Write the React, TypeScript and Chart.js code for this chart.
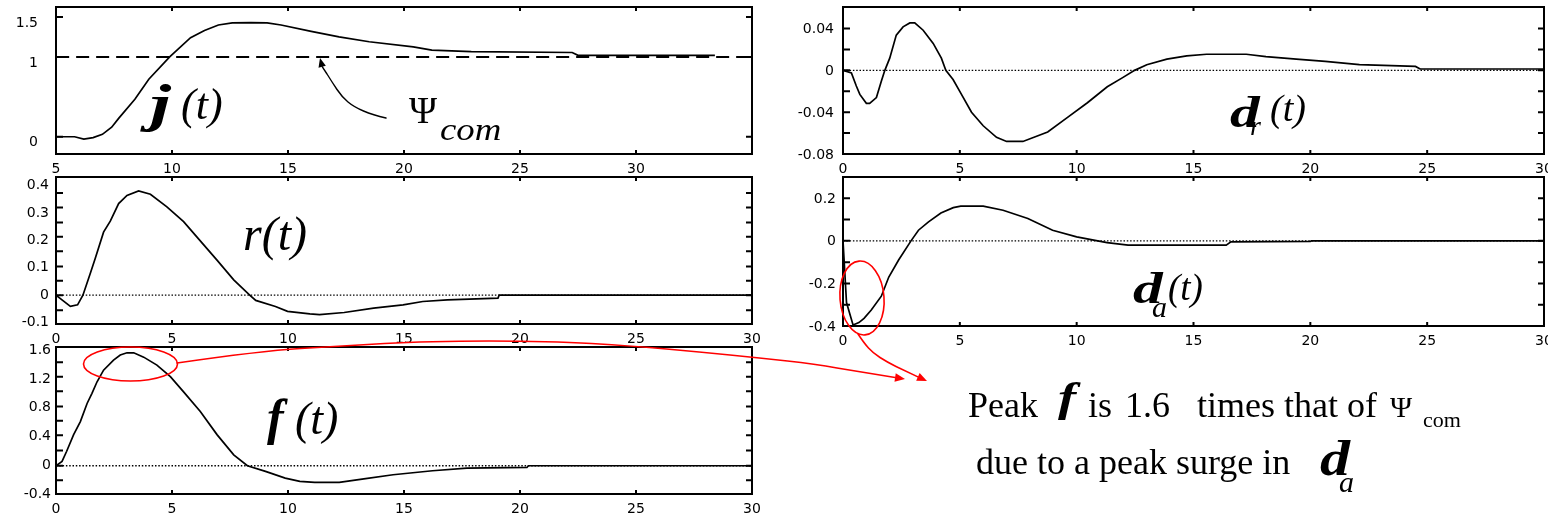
import React, { useEffect, useRef } from "react";
import { Chart, registerables } from "chart.js";

Chart.register(...registerables);

const PAGE_W = 1548;
const PAGE_H = 518;

// ---------------- data ----------------
const jTime = [5, 5.8, 6.2, 6.6, 7.0, 7.4, 7.7, 8.4, 9.0, 9.9, 10.8, 11.4, 12.0, 12.6, 13.4, 14.1, 14.7, 16.0, 17.2, 18.5, 20.4, 21.2, 22.9, 27.25, 27.5, 33.4];
const jValue = [0, 0, -0.03, -0.01, 0.03, 0.12, 0.23, 0.47, 0.72, 1.0, 1.24, 1.33, 1.4, 1.425, 1.43, 1.425, 1.4, 1.32, 1.25, 1.19, 1.125, 1.085, 1.065, 1.055, 1.02, 1.02];
const psiComTime = [5, 5, 35];
const psiComValue = [0, 1, 1];

const rTime = [0, 0.3, 0.62, 0.93, 1.16, 1.48, 1.69, 2.05, 2.34, 2.7, 3.06, 3.56, 4.07, 4.78, 5.5, 6.2, 6.94, 7.66, 8.35, 8.61, 9.46, 9.98, 10.94, 11.36, 12.42, 13.69, 14.96, 15.81, 16.87, 19.05, 19.1, 30];
const rValue = [0, -0.02, -0.041, -0.035, 0, 0.08, 0.134, 0.23, 0.27, 0.334, 0.364, 0.38, 0.368, 0.322, 0.268, 0.2, 0.128, 0.056, 0, -0.019, -0.041, -0.059, -0.068, -0.071, -0.063, -0.047, -0.035, -0.023, -0.017, -0.011, 0, 0];

const fTime = [0, 0.26, 0.46, 0.76, 1.05, 1.34, 1.55, 1.77, 2.05, 2.48, 2.77, 3.06, 3.35, 3.78, 4.35, 4.93, 5.5, 6.22, 6.94, 7.66, 8.25, 9.03, 9.88, 10.51, 11.15, 12.21, 13.27, 14.53, 16.23, 17.71, 20.3, 20.36, 30];
const fValue = [0, 0.06, 0.2, 0.43, 0.61, 0.86, 1.0, 1.16, 1.32, 1.46, 1.53, 1.56, 1.56, 1.5, 1.39, 1.23, 1.02, 0.75, 0.43, 0.15, 0, -0.078, -0.17, -0.216, -0.23, -0.23, -0.18, -0.124, -0.069, -0.032, -0.023, 0, 0];

const drTime = [0, 0.36, 0.57, 0.72, 1.0, 1.14, 1.43, 1.64, 1.79, 2.0, 2.28, 2.57, 2.86, 3.07, 3.43, 3.86, 4.21, 4.4, 4.71, 5.07, 5.5, 6.0, 6.57, 7.0, 7.7, 8.76, 9.61, 10.46, 11.31, 11.95, 12.48, 13.0, 13.86, 14.71, 15.56, 17.26, 18.1, 19.4, 20.64, 22.1, 24.5, 24.7, 30];
const drValue = [0, -0.0025, -0.015, -0.023, -0.0315, -0.0315, -0.026, -0.0104, 0, 0.0117, 0.0337, 0.0416, 0.0454, 0.0454, 0.0384, 0.0258, 0.0117, 0, -0.0088, -0.023, -0.04, -0.053, -0.064, -0.068, -0.068, -0.059, -0.045, -0.031, -0.0157, -0.0072, 0, 0.0054, 0.0107, 0.0139, 0.0154, 0.0154, 0.0132, 0.0107, 0.0085, 0.0054, 0.0038, 0.0013, 0.0013];

const daTime = [0, 0.15, 0.43, 0.68, 0.9, 1.21, 1.64, 1.96, 2.38, 2.91, 3.23, 3.66, 4.19, 4.72, 5.04, 6.0, 6.85, 7.91, 8.97, 10.0, 10.9, 11.3, 12.2, 16.4, 16.6, 20.0, 20.05, 30];
const daValue = [0, -0.29, -0.395, -0.384, -0.364, -0.325, -0.26, -0.17, -0.09, 0, 0.05, 0.089, 0.131, 0.156, 0.163, 0.163, 0.144, 0.105, 0.05, 0.019, 0, -0.008, -0.02, -0.02, -0.005, -0.002, 0, 0];

const zeroTime = [0, 30];
const zeroValue = [0, 0];

// tick values and labels
const jXTicks = [5, 10, 15, 20, 25, 30];
const jXLabels = ["5", "10", "15", "20", "25", "30"];
const tXTicks = [0, 5, 10, 15, 20, 25, 30];
const tXLabels = ["0", "5", "10", "15", "20", "25", "30"];
const jYTicks = [0, 1, 1.5];
const jYLabels = ["0", "1", "1.5"];
const drYTicks = [-0.08, -0.04, 0, 0.04];
const drYLabels = ["-0.08", "-0.04", "0", "0.04"];
const rYTicks = [-0.1, 0, 0.1, 0.2, 0.3, 0.4];
const rYLabels = ["-0.1", "0", "0.1", "0.2", "0.3", "0.4"];
const daYTicks = [-0.4, -0.2, 0, 0.2];
const daYLabels = ["-0.4", "-0.2", "0", "0.2"];
const fYTicks = [-0.4, 0, 0.4, 0.8, 1.2, 1.6];
const fYLabels = ["-0.4", "0", "0.4", "0.8", "1.2", "1.6"];

// inward tick marks
const jXMarks = [10, 15, 20, 25, 30];
const tXMarks = [5, 10, 15, 20, 25];
const jYMarks = [0, 1, 1.5];
const drYMarks = [-0.06, -0.04, -0.02, 0, 0.02, 0.04];
const rYMarks = [-0.055, 0, 0.053, 0.105, 0.16, 0.213, 0.265, 0.32, 0.373];
const daYMarks = [-0.3, -0.2, -0.1, 0, 0.1, 0.2];
const fYMarks = [-0.2, 0, 0.21, 0.42, 0.62, 0.82, 1.03, 1.23, 1.43];

// ---------------- drawing helpers ----------------
const SERIF = '"Liberation Serif", "Times New Roman", serif';
const TICK_FONT = { family: '"DejaVu Sans", sans-serif', size: 14 };

function put(ctx: CanvasRenderingContext2D, s: string, x: number, y: number, size: number, style = "", sx = 1) {
  ctx.save();
  ctx.font = `${style} ${size}px ${SERIF}`.trim();
  ctx.fillStyle = "#000";
  ctx.textAlign = "left";
  ctx.textBaseline = "alphabetic";
  ctx.translate(x, y);
  ctx.scale(sx, 1);
  ctx.fillText(s, 0, 0);
  ctx.restore();
}

function arrow(ctx: CanvasRenderingContext2D, pts: number[][], color: string, lw: number, head: number) {
  ctx.save();
  ctx.strokeStyle = color;
  ctx.fillStyle = color;
  ctx.lineWidth = lw;
  ctx.lineJoin = "round";
  ctx.lineCap = "round";
  const n = pts.length;
  const [ex, ey] = pts[n - 1];
  const [px, py] = pts[n - 2];
  const ang = Math.atan2(ey - py, ex - px);
  const bx = ex - head * Math.cos(ang);
  const by = ey - head * Math.sin(ang);
  ctx.beginPath();
  ctx.moveTo(pts[0][0], pts[0][1]);
  for (let i = 1; i < n - 2; i++) {
    const mx = (pts[i][0] + pts[i + 1][0]) / 2;
    const my = (pts[i][1] + pts[i + 1][1]) / 2;
    ctx.quadraticCurveTo(pts[i][0], pts[i][1], mx, my);
  }
  ctx.lineTo(bx, by);
  ctx.stroke();
  const w = head * 0.42;
  ctx.beginPath();
  ctx.moveTo(ex, ey);
  ctx.lineTo(bx + w * Math.sin(ang), by - w * Math.cos(ang));
  ctx.lineTo(bx - w * Math.sin(ang), by + w * Math.cos(ang));
  ctx.closePath();
  ctx.fill();
  ctx.restore();
}

function ellipse(ctx: CanvasRenderingContext2D, cx: number, cy: number, rx: number, ry: number, rot: number) {
  ctx.save();
  ctx.strokeStyle = "#ff0000";
  ctx.lineWidth = 1.6;
  ctx.beginPath();
  ctx.ellipse(cx, cy, rx, ry, rot, 0, Math.PI * 2);
  ctx.stroke();
  ctx.restore();
}

// ---------------- panels ----------------
type Series = { t: number[]; v: number[]; kind: "curve" | "zero" | "dash" };
type PanelDef = {
  area: [number, number, number, number];
  xr: [number, number];
  yr: [number, number];
  xTicks: number[];
  xLabels: string[];
  yTicks: number[];
  yLabels: string[];
  xMarks: number[];
  yMarks: number[];
  yPad: number;
  yShift: number;
  series: Series[];
  deco?: (ctx: CanvasRenderingContext2D) => void;
};

const decoJ = (ctx: CanvasRenderingContext2D) => {
  put(ctx, "j", 150, 121, 52, "italic bold", 1.45);
  put(ctx, "(t)", 181, 119, 44, "italic");
  put(ctx, "\u03A8", 409, 123, 38);
  put(ctx, "com", 440, 140, 32, "italic", 1.15);
  arrow(ctx, [[386, 118], [373, 115], [354, 107], [342, 97], [332, 82], [322, 66], [320, 58]], "#000", 1.4, 9);
};
const decoDr = (ctx: CanvasRenderingContext2D) => {
  put(ctx, "d", 1230, 127, 44, "italic bold", 1.35);
  put(ctx, "r", 1250, 135, 28, "italic");
  put(ctx, "(t)", 1270, 121, 38, "italic");
};
const decoR = (ctx: CanvasRenderingContext2D) => {
  put(ctx, "r(t)", 243, 250, 48, "italic");
};
const decoDa = (ctx: CanvasRenderingContext2D) => {
  put(ctx, "d", 1133, 303, 44, "italic bold", 1.35);
  put(ctx, "a", 1152, 317, 30, "italic");
  put(ctx, "(t)", 1168, 300, 37, "italic");
};
const decoF = (ctx: CanvasRenderingContext2D) => {
  put(ctx, "f", 267, 434, 50, "italic bold");
  put(ctx, "(t)", 295, 434, 46, "italic");
  // red annotations
  ellipse(ctx, 130.5, 364, 47, 17, 0);
  ellipse(ctx, 862, 298, 22, 37, -0.08);
  arrow(ctx, [[177, 363], [260, 351], [341, 346], [428, 341], [550, 341], [633, 346], [700, 352], [760, 358], [815, 364], [859, 372], [905, 379]], "#ff0000", 1.6, 10);
  arrow(ctx, [[858, 334], [864, 343], [873, 353], [887, 362], [905, 371], [927, 381]], "#ff0000", 1.6, 10);
  // remark text
  put(ctx, "Peak", 968, 417, 36);
  put(ctx, "f", 1058, 411, 42, "italic bold", 1.3);
  put(ctx, "is", 1088, 417, 36);
  put(ctx, "1.6", 1125, 417, 36);
  put(ctx, "times that of", 1197, 417, 36);
  put(ctx, "\u03A8", 1390, 417, 30);
  put(ctx, "com", 1423, 427, 22);
  put(ctx, "due to a peak surge in", 976, 474, 36);
  put(ctx, "d", 1320, 475, 50, "italic bold", 1.2);
  put(ctx, "a", 1339, 492, 30, "italic");
};

const panels: PanelDef[] = [
  {
    area: [56, 7, 752, 154], xr: [5, 35], yr: [-0.216, 1.625],
    xTicks: jXTicks, xLabels: jXLabels, yTicks: jYTicks, yLabels: jYLabels,
    xMarks: jXMarks, yMarks: jYMarks, yPad: 18, yShift: 6,
    series: [
      { t: jTime, v: jValue, kind: "curve" },
      { t: psiComTime, v: psiComValue, kind: "dash" },
    ],
    deco: decoJ,
  },
  {
    area: [843, 7, 1544, 154], xr: [0, 30], yr: [-0.08, 0.0606],
    xTicks: tXTicks, xLabels: tXLabels, yTicks: drYTicks, yLabels: drYLabels,
    xMarks: tXMarks, yMarks: drYMarks, yPad: 9, yShift: 1,
    series: [
      { t: drTime, v: drValue, kind: "curve" },
      { t: zeroTime, v: zeroValue, kind: "zero" },
    ],
    deco: decoDr,
  },
  {
    area: [56, 177, 752, 324], xr: [0, 30], yr: [-0.105, 0.431],
    xTicks: tXTicks, xLabels: tXLabels, yTicks: rYTicks, yLabels: rYLabels,
    xMarks: tXMarks, yMarks: rYMarks, yPad: 7, yShift: 0,
    series: [
      { t: rTime, v: rValue, kind: "curve" },
      { t: zeroTime, v: zeroValue, kind: "zero" },
    ],
    deco: decoR,
  },
  {
    area: [843, 177, 1544, 326], xr: [0, 30], yr: [-0.4, 0.3],
    xTicks: tXTicks, xLabels: tXLabels, yTicks: daYTicks, yLabels: daYLabels,
    xMarks: tXMarks, yMarks: daYMarks, yPad: 7, yShift: 1,
    series: [
      { t: daTime, v: daValue, kind: "curve" },
      { t: zeroTime, v: zeroValue, kind: "zero" },
    ],
    deco: decoDa,
  },
  {
    area: [56, 347, 752, 494], xr: [0, 30], yr: [-0.39, 1.64],
    xTicks: tXTicks, xLabels: tXLabels, yTicks: fYTicks, yLabels: fYLabels,
    xMarks: tXMarks, yMarks: fYMarks, yPad: 5, yShift: 0,
    series: [
      { t: fTime, v: fValue, kind: "curve" },
      { t: zeroTime, v: zeroValue, kind: "zero" },
    ],
    deco: decoF,
  },
];

const Y_W = 50;
const X_H = 30;

function makeDataset(s: Series) {
  const data = s.t.map((x, i) => ({ x, y: s.v[i] }));
  const base: any = {
    data,
    borderColor: "#000",
    pointRadius: 0,
    pointHoverRadius: 0,
    tension: 0,
    fill: false,
  };
  if (s.kind === "curve") return { ...base, borderWidth: 1.7, order: 0 };
  if (s.kind === "dash") return { ...base, borderWidth: 2, borderDash: [13, 7], order: 1 };
  return { ...base, borderWidth: 1.3, borderDash: [1.5, 1.8], order: 2 };
}

function PanelCanvas({ def }: { def: PanelDef }) {
  const ref = useRef<HTMLCanvasElement | null>(null);
  useEffect(() => {
    if (!ref.current) return;
    const [L, T, R, B] = def.area;
    const deco = {
      id: "panelDeco",
      afterDraw(chart: any) {
        const ctx: CanvasRenderingContext2D = chart.ctx;
        const xs = chart.scales.x;
        const ys = chart.scales.y;
        const a = chart.chartArea;
        ctx.save();
        ctx.strokeStyle = "#000";
        ctx.lineWidth = 2;
        ctx.strokeRect(a.left, a.top, a.right - a.left, a.bottom - a.top);
        ctx.beginPath();
        def.yMarks.forEach((v) => {
          const y = ys.getPixelForValue(v);
          ctx.moveTo(a.left, y);
          ctx.lineTo(a.left + 7, y);
          ctx.moveTo(a.right - 6, y);
          ctx.lineTo(a.right, y);
        });
        def.xMarks.forEach((v) => {
          const x = xs.getPixelForValue(v);
          ctx.moveTo(x, a.bottom);
          ctx.lineTo(x, a.bottom - 4);
          ctx.moveTo(x, a.top);
          ctx.lineTo(x, a.top + 4);
        });
        ctx.stroke();
        ctx.restore();
        if (def.deco) def.deco(ctx);
      },
    };
    const chart = new Chart(ref.current, {
      type: "line",
      data: { datasets: def.series.map(makeDataset) as any },
      options: {
        responsive: false,
        animation: false,
        devicePixelRatio: 1,
        events: [],
        layout: {
          autoPadding: false,
          padding: { left: L - Y_W, top: T, right: PAGE_W - R, bottom: PAGE_H - B - X_H },
        },
        plugins: {
          legend: { display: false },
          tooltip: { enabled: false },
          title: { display: false },
        },
        scales: {
          x: {
            type: "linear",
            position: "bottom",
            min: def.xr[0],
            max: def.xr[1],
            bounds: "data",
            grid: { display: false, drawTicks: false },
            border: { display: false },
            ticks: {
              font: TICK_FONT,
              color: "#000",
              padding: 7,
              autoSkip: false,
              maxRotation: 0,
              minRotation: 0,
              callback: (_v: any, i: number) => def.xLabels[i],
            },
            afterBuildTicks: (s: any) => {
              s.ticks = def.xTicks.map((value) => ({ value }));
            },
            afterFit: (s: any) => {
              s.height = X_H;
              s.paddingLeft = 0;
              s.paddingRight = 0;
            },
          },
          y: {
            type: "linear",
            position: "left",
            min: def.yr[0],
            max: def.yr[1],
            bounds: "data",
            grid: { display: false, drawTicks: false },
            border: { display: false },
            ticks: {
              font: TICK_FONT,
              color: "#000",
              padding: def.yPad,
              autoSkip: false,
              labelOffset: def.yShift,
              callback: (_v: any, i: number) => def.yLabels[i],
            },
            afterBuildTicks: (s: any) => {
              s.ticks = def.yTicks.map((value) => ({ value }));
            },
            afterFit: (s: any) => {
              s.width = Y_W;
              s.paddingTop = 0;
              s.paddingBottom = 0;
            },
          },
        },
      } as any,
      plugins: [deco],
    });
    return () => chart.destroy();
  }, [def]);
  return (
    <canvas
      ref={ref}
      width={PAGE_W}
      height={PAGE_H}
      style={{ position: "absolute", left: 0, top: 0, width: PAGE_W, height: PAGE_H }}
    />
  );
}

export default function App() {
  return (
    <div
      style={{
        position: "fixed",
        left: 0,
        top: 0,
        width: PAGE_W,
        height: PAGE_H,
        background: "#fff",
        overflow: "hidden",
      }}
    >
      {panels.map((p, i) => (
        <PanelCanvas key={i} def={p} />
      ))}
    </div>
  );
}
